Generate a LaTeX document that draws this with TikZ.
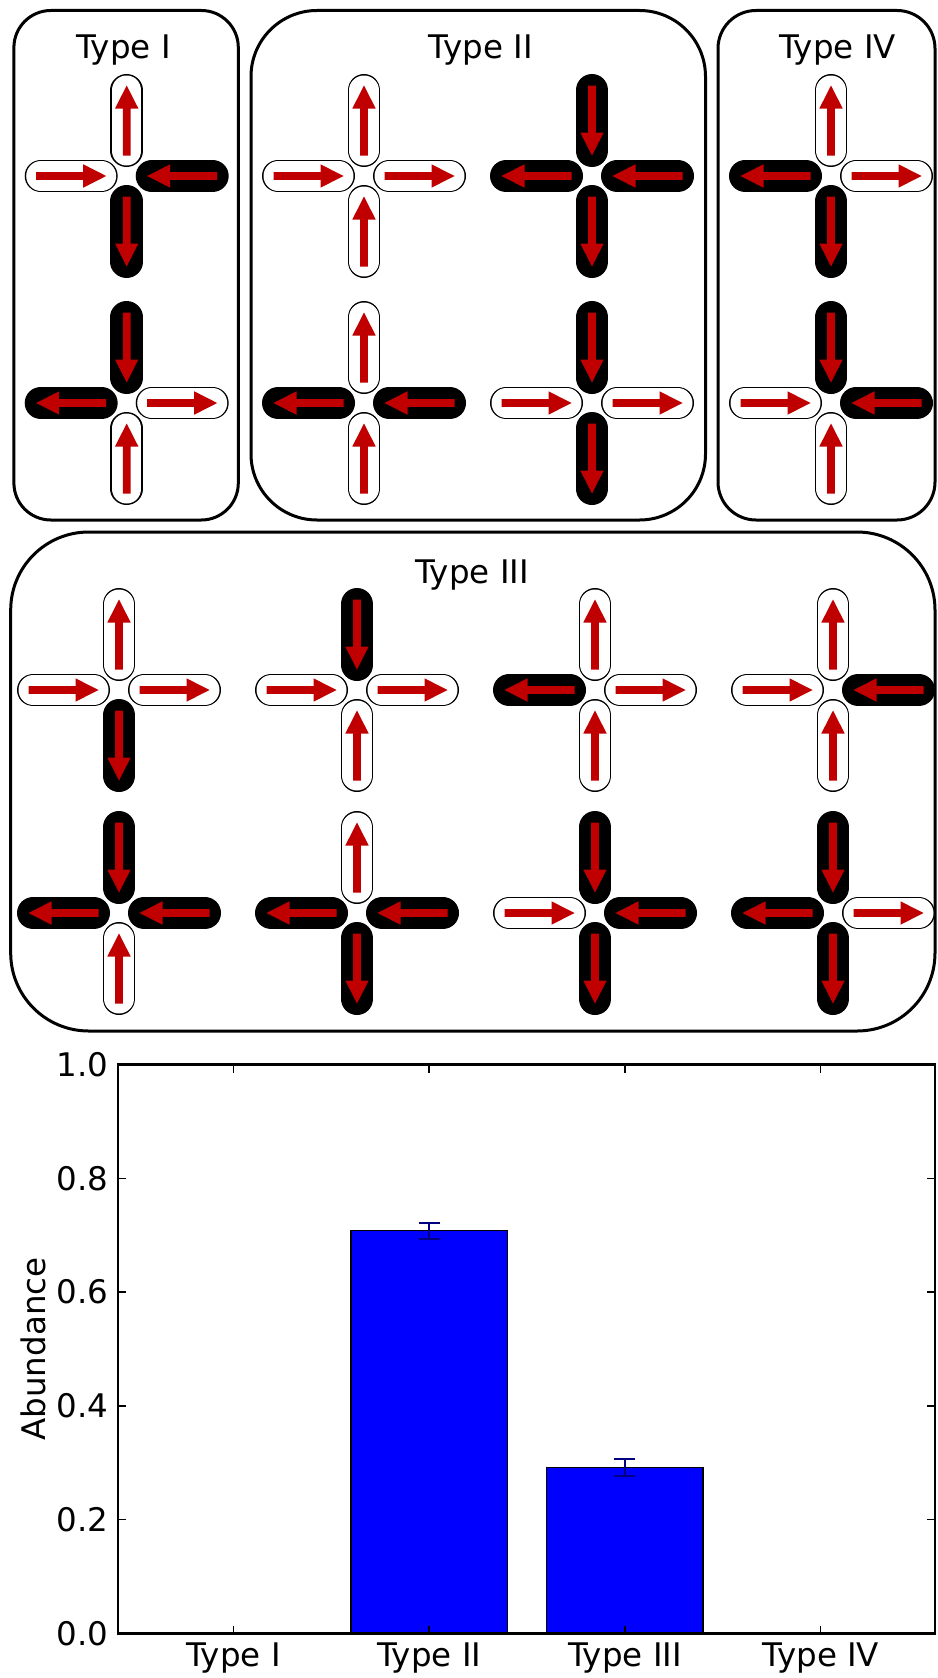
\documentclass[tikz,border=0pt]{standalone}
\usepackage{fontspec}
\setmainfont{DejaVu Sans}
\definecolor{spinred}{RGB}{192,0,0}
\definecolor{barblue}{RGB}{0,0,255}
\definecolor{errnavy}{RGB}{0,0,128}
\tikzset{
  pillouter/.style={draw=black,line width=32.5pt,line cap=round},
  pillinner/.style={draw=#1,line width=29.5pt,line cap=round},
  typebox/.style={draw=black,line width=3pt},
  title/.style={anchor=base,inner sep=0pt,font=\fontsize{32.5}{39}\selectfont},
  ticklab/.style={inner sep=0pt,font=\fontsize{32.5}{39}\selectfont},
  axisframe/.style={draw=black,line width=2.2pt},
  tickline/.style={draw=black,line width=1.5pt},
  bar/.style={fill=barblue,draw=black,line width=1.5pt},
  errbar/.style={draw=errnavy,line width=2pt},
}
\newcommand{\arrowo}{\fill[spinred] (20.5,3.9) -- (67.5,3.9) -- (67.5,11.7) -- (90.5,0) -- (67.5,-11.7) -- (67.5,-3.9) -- (20.5,-3.9) -- cycle;}
\newcommand{\arrowi}{\fill[spinred] (90.5,3.9) -- (43.5,3.9) -- (43.5,11.7) -- (20.5,0) -- (43.5,-11.7) -- (43.5,-3.9) -- (90.5,-3.9) -- cycle;}
\newcommand{\spinarm}[5]{%
  \begin{scope}[shift={(#1,#2)},rotate=#3]
    \draw[pillouter] (25.25,0) -- (85.75,0);
    \draw[pillinner=#4] (25.25,0) -- (85.75,0);
    \csname arrow#5\endcsname
  \end{scope}}
\newcommand{\armNU}[2]{\spinarm{#1}{#2}{90}{white}{o}}
\newcommand{\armND}[2]{\spinarm{#1}{#2}{90}{black}{i}}
\newcommand{\armSU}[2]{\spinarm{#1}{#2}{270}{white}{i}}
\newcommand{\armSD}[2]{\spinarm{#1}{#2}{270}{black}{o}}
\newcommand{\armER}[2]{\spinarm{#1}{#2}{0}{white}{o}}
\newcommand{\armEL}[2]{\spinarm{#1}{#2}{0}{black}{i}}
\newcommand{\armWR}[2]{\spinarm{#1}{#2}{180}{white}{i}}
\newcommand{\armWL}[2]{\spinarm{#1}{#2}{180}{black}{o}}
% vertex: cx, cy, N, E, S, W
\newcommand{\spinvertex}[6]{%
  \csname armN#3\endcsname{#1}{#2}%
  \csname armE#4\endcsname{#1}{#2}%
  \csname armS#5\endcsname{#1}{#2}%
  \csname armW#6\endcsname{#1}{#2}}
\begin{document}
\begin{tikzpicture}[x=1pt,y=-1pt]
\useasboundingbox (0,0) rectangle (937,1678);
\fill[white] (0,0) rectangle (937,1678);

% ---- boxes ----
\draw[typebox,rounded corners=37pt] (13.9,10.5) rectangle (238.3,520);
\draw[typebox,rounded corners=66pt] (251,10.5) rectangle (705.5,520);
\draw[typebox,rounded corners=38pt] (718,10.5) rectangle (935,520);
\draw[typebox,rounded corners=78pt] (10.7,532) rectangle (935,1031);

\node[title] (t1) at (123.3,58.5) {Type I};
\node[title] (t2) at (481,58.5) {Type II};
\node[title] (t4) at (837.5,58.5) {Type IV};
\node[title] (t3) at (472,583.5) {Type III};

% ---- Type I ----
\spinvertex{126.7}{176}{U}{L}{D}{R}
\spinvertex{126.7}{403}{D}{R}{U}{L}
% ---- Type II ----
\spinvertex{364}{176}{U}{R}{U}{R}
\spinvertex{592}{176}{D}{L}{D}{L}
\spinvertex{364}{403}{U}{L}{U}{L}
\spinvertex{592}{403}{D}{R}{D}{R}
% ---- Type IV ----
\spinvertex{831}{176}{U}{R}{D}{L}
\spinvertex{831}{403}{D}{L}{U}{R}
% ---- Type III ----
\spinvertex{119}{690}{U}{R}{D}{R}
\spinvertex{357}{690}{D}{R}{U}{R}
\spinvertex{595}{690}{U}{R}{U}{L}
\spinvertex{833}{690}{U}{L}{U}{R}
\spinvertex{119}{913}{D}{L}{U}{L}
\spinvertex{357}{913}{U}{L}{D}{L}
\spinvertex{595}{913}{D}{L}{D}{R}
\spinvertex{833}{913}{D}{R}{D}{L}

% ---- bar chart ----
% zero-height bars
\draw[gray!55,line width=1pt] (155,1632.3) -- (311.7,1632.3);
\draw[gray!55,line width=1pt] (742.4,1632.3) -- (899,1632.3);
\draw[errnavy,line width=1pt] (223,1632.3) -- (243.6,1632.3);
\draw[errnavy,line width=1pt] (810.4,1632.3) -- (831,1632.3);
% bars
\draw[bar] (350.9,1633.5) rectangle (507.5,1230.6);
\draw[bar] (546.3,1633.5) rectangle (702.9,1467.4);
% error bars
\draw[errbar] (429.2,1223.3) -- (429.2,1239);
\draw[errbar] (418.9,1223.3) -- (439.5,1223.3);
\draw[errbar] (418.9,1239) -- (439.5,1239);
\draw[errbar] (624.6,1459.3) -- (624.6,1475.7);
\draw[errbar] (614.3,1459.3) -- (634.9,1459.3);
\draw[errbar] (614.3,1475.7) -- (634.9,1475.7);
% frame
\draw[axisframe] (118.3,1064.5) rectangle (935,1633.5);
% y ticks and labels
\foreach \v/\lab [count=\i] in {0/0.0,0.2/0.2,0.4/0.4,0.6/0.6,0.8/0.8,1.0/1.0}{
  \draw[tickline] (118.3,{1633.5-569*\v}) -- (126.3,{1633.5-569*\v});
  \draw[tickline] (935,{1633.5-569*\v}) -- (927,{1633.5-569*\v});
  \node[ticklab,anchor=east] (ylab\i) at (108.5,{1633.5-569*\v}) {\lab};
}
% x ticks and labels
\foreach \x/\lab [count=\i] in {233.3/Type I,429.1/Type II,624.9/Type III,820.7/Type IV}{
  \draw[tickline] (\x,1633.5) -- (\x,1625.5);
  \draw[tickline] (\x,1064.5) -- (\x,1072.5);
  \node[ticklab,anchor=base] (xlab\i) at (\x,1666.7) {\lab};
}
\node[ticklab,anchor=base,rotate=90] (ylabel) at (45,1349) {Abundance};
\end{tikzpicture}
\end{document}
